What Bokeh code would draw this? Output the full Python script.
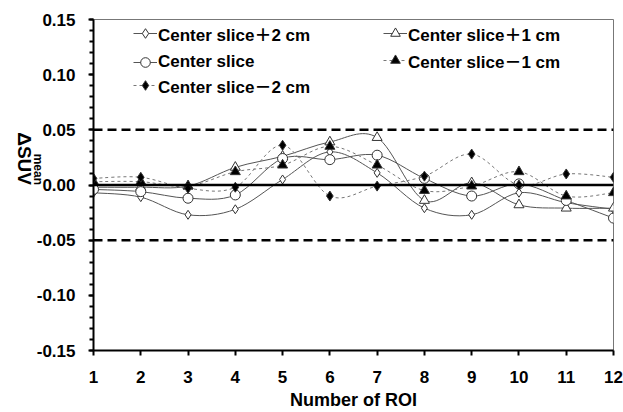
import math
from bokeh.plotting import figure
from bokeh.models import Span, Legend, LegendItem, FixedTicker, Range1d, NumeralTickFormatter, LinearAxis
from bokeh.embed import file_html
from bokeh.resources import INLINE

roi = [1, 2, 3, 4, 5, 6, 7, 8, 9, 10, 11, 12]
plus2 = [-0.007, -0.011, -0.027, -0.022, 0.005, 0.030, 0.011, -0.021, -0.027, -0.007, -0.016, -0.022]
plus1 = [-0.002, -0.002, -0.001, 0.016, 0.026, 0.039, 0.043, -0.014, 0.002, -0.018, -0.021, -0.021]
center = [-0.004, -0.006, -0.012, -0.009, 0.024, 0.023, 0.027, 0.006, -0.010, 0.001, -0.014, -0.030]
minus1 = [0.003, 0.003, -0.001, 0.012, 0.018, 0.035, 0.018, -0.005, -0.001, 0.012, -0.010, -0.007]
minus2 = [0.006, 0.007, -0.003, -0.002, 0.036, -0.010, -0.001, 0.008, 0.028, 0.000, 0.010, 0.007]

labels = ["Center slice＋2 cm", "Center slice＋1 cm", "Center slice", "Center slice－1 cm", "Center slice－2 cm"]
y_ticks = [-0.15, -0.10, -0.05, 0.0, 0.05, 0.10, 0.15]
y_minor = [round(-0.15 + 0.01 * i, 2) for i in range(31)]
limits = [0.05, -0.05]

FONT = "Liberation Sans"
LFONT = "Liberation Sans, Noto Sans CJK JP"

p = figure(width=623, height=412, output_backend="svg", toolbar_location=None,
           x_range=Range1d(1, 12), y_range=Range1d(-0.15, 0.15),
           min_border_left=93, min_border_right=10, min_border_top=19, min_border_bottom=60)
p.background_fill_color = "white"
p.border_fill_color = "white"
p.outline_line_color = "#777777"
p.outline_line_width = 1
p.xgrid.visible = False
p.ygrid.visible = False

# reference lines
p.add_layout(Span(location=0.0, dimension="width", line_color="black", line_width=2.5))
for lv in limits:
    p.add_layout(Span(location=lv, dimension="width", line_color="black", line_width=2.5, line_dash="9 5"))


def bezier_parts(xs, ys):
    n = len(xs)
    out = dict(x0=[], y0=[], x1=[], y1=[], cx0=[], cy0=[], cx1=[], cy1=[])
    for i in range(n - 1):
        pm = i - 1 if i > 0 else i
        pp = i + 2 if i + 2 < n else i + 1
        out["x0"].append(xs[i]); out["y0"].append(ys[i])
        out["x1"].append(xs[i + 1]); out["y1"].append(ys[i + 1])
        out["cx0"].append(xs[i] + (xs[i + 1] - xs[pm]) / 6)
        out["cy0"].append(ys[i] + (ys[i + 1] - ys[pm]) / 6)
        out["cx1"].append(xs[i + 1] - (xs[pp] - xs[i]) / 6)
        out["cy1"].append(ys[i + 1] - (ys[pp] - ys[i]) / 6)
    return out


styles = [
    (plus2, "diamond", "white", 9, "solid", "#555555"),
    (plus1, "triangle", "white", 10, "solid", "#555555"),
    (center, "circle", "white", 10, "solid", "#555555"),
    (minus1, "triangle", "black", 10, "3 3", "#777777"),
    (minus2, "diamond", "black", 10, "3 3", "#777777"),
]

items = []
for (vals, marker, fill, size, dash, lc), lab in zip(styles, labels):
    b = bezier_parts(roi, vals)
    p.bezier(x0=b["x0"], y0=b["y0"], x1=b["x1"], y1=b["y1"], cx0=b["cx0"], cy0=b["cy0"],
             cx1=b["cx1"], cy1=b["cy1"], line_color=lc, line_width=1, line_dash=dash)
    lr = p.line(roi, vals, line_color=lc, line_width=1, line_dash=dash, visible=False)
    sr = p.scatter(roi, vals, marker=marker, size=size, fill_color=fill, line_color="#333333", line_width=1)
    items.append(LegendItem(label=lab, renderers=[lr, sr]))


def make_legend(item, loc):
    lg = Legend(items=[item], location=loc, orientation="vertical")
    lg.border_line_color = None
    lg.background_fill_alpha = 0
    lg.padding = 0
    lg.margin = 0
    lg.spacing = 0
    lg.glyph_width = 24
    lg.glyph_height = 30
    lg.label_height = 30
    lg.label_standoff = 1
    lg.label_text_font = LFONT
    lg.label_text_font_style = "bold"
    lg.label_text_font_size = "17px"
    lg.label_text_color = "black"
    return lg

# legend slots (screen offsets inside the frame)
legend_slots = [(40, 302), (290, 302), (40, 273), (290, 275), (40, 250)]
for it, slot in zip(items, legend_slots):
    p.add_layout(make_legend(it, slot))

# axes
p.xaxis.ticker = FixedTicker(ticks=roi)
p.yaxis.ticker = FixedTicker(ticks=y_ticks, minor_ticks=y_minor)
p.yaxis.formatter = NumeralTickFormatter(format="0.00")
for ax in (p.xaxis[0], p.yaxis[0]):
    ax.axis_line_color = "black"
    ax.axis_line_width = 2
    ax.major_tick_line_color = "black"
    ax.major_tick_line_width = 2
    ax.major_tick_out = 5
    ax.major_tick_in = 0
    ax.major_label_text_font = FONT
    ax.major_label_text_font_style = "bold"
    ax.major_label_text_font_size = "17px"
    ax.major_label_text_color = "black"
p.xaxis.minor_tick_line_color = None
p.yaxis.minor_tick_line_color = "black"
p.yaxis.minor_tick_line_width = 2
p.yaxis.minor_tick_out = 4
p.yaxis.minor_tick_in = 0
p.yaxis.major_label_standoff = 13
p.xaxis.major_label_standoff = 15

p.xaxis.axis_label = "Number of ROI"
p.xaxis.axis_label_text_font = FONT
p.xaxis.axis_label_text_font_style = "bold"
p.xaxis.axis_label_text_font_size = "18px"
p.xaxis.axis_label_text_color = "black"
p.xaxis.axis_label_standoff = 4


def label_axis(text, size, bounds):
    ax = LinearAxis(ticker=FixedTicker(ticks=[]), bounds=bounds, axis_label=text)
    ax.axis_line_color = None
    ax.major_tick_line_color = None
    ax.minor_tick_line_color = None
    ax.major_tick_out = 0
    ax.minor_tick_out = 0
    ax.major_label_standoff = 0
    ax.axis_label_standoff = -4
    ax.axis_label_orientation = -math.pi / 2
    ax.axis_label_text_font = FONT
    ax.axis_label_text_font_style = "bold"
    ax.axis_label_text_font_size = size
    ax.axis_label_text_color = "black"
    return ax

# y-axis title: ΔSUV with subscript "mean"
p.add_layout(label_axis("mean", "12px", (0.005, 0.035)), "left")
p.add_layout(label_axis("ΔSUV", "19px", (-0.035, 0.000)), "left")

open("out.html", "w").write(file_html(p, INLINE))
